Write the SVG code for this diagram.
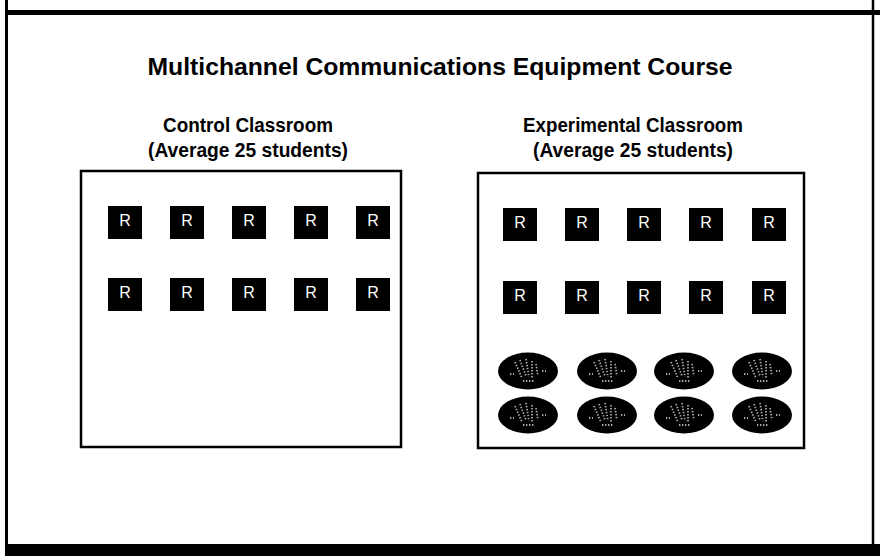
<svg xmlns="http://www.w3.org/2000/svg" width="880" height="556" viewBox="0 0 880 556">
<defs>
<style>
.t{font-family:"Liberation Sans",Arial,Helvetica,sans-serif;font-weight:bold;fill:#000;text-anchor:middle}
.frame{fill:none;stroke:#000;stroke-width:2.5}
.r{fill:#000}
.rl{font-family:"Liberation Sans",Arial,sans-serif;font-size:16px;fill:#fff;text-anchor:middle}
.ov{fill:#000}
.hand{fill:none;stroke:#a8a8a8;stroke-width:1.8;stroke-dasharray:1.4 1.6}
</style>
<symbol id="handmark" viewBox="-30 -18 60 36" overflow="visible">
<path class="hand" d="M-13 -9 L-6 7 M-8 -11 L-2 5 M-2 -12 L1 6 M4 -10 L4 7 M8 -7 L10 5 M-5 10 L7 10 M-18 3 L-14 3 M14 0 L18 0"/>
</symbol>
</defs>
<rect width="880" height="556" fill="#fff"/>
<g id="page-frame">
<line x1="6.5" y1="0" x2="6.5" y2="546" stroke="#000" stroke-width="3"/>
<line x1="873" y1="0" x2="873" y2="546" stroke="#000" stroke-width="2.5"/>
<rect x="6" y="10" width="874" height="5" fill="#000"/>
<rect x="5" y="544" width="875" height="12" fill="#000"/>
</g>
<text class="t" x="440" y="75" font-size="24" textLength="585" lengthAdjust="spacingAndGlyphs">Multichannel Communications Equipment Course</text>
<g id="control">
<text class="t" x="248" y="132" font-size="19.5" textLength="170" lengthAdjust="spacingAndGlyphs">Control Classroom</text>
<text class="t" x="248" y="157" font-size="19.5" textLength="200" lengthAdjust="spacingAndGlyphs">(Average 25 students)</text>
<rect class="frame" x="81" y="171" width="320" height="276"/>
<g id="control-seats">
<rect class="r" x="108" y="206" width="34" height="33"/><text class="rl" x="125" y="226">R</text>
<rect class="r" x="170" y="206" width="34" height="33"/><text class="rl" x="187" y="226">R</text>
<rect class="r" x="232" y="206" width="34" height="33"/><text class="rl" x="249" y="226">R</text>
<rect class="r" x="294" y="206" width="34" height="33"/><text class="rl" x="311" y="226">R</text>
<rect class="r" x="356" y="206" width="34" height="33"/><text class="rl" x="373" y="226">R</text>
<rect class="r" x="108" y="278" width="34" height="33"/><text class="rl" x="125" y="298">R</text>
<rect class="r" x="170" y="278" width="34" height="33"/><text class="rl" x="187" y="298">R</text>
<rect class="r" x="232" y="278" width="34" height="33"/><text class="rl" x="249" y="298">R</text>
<rect class="r" x="294" y="278" width="34" height="33"/><text class="rl" x="311" y="298">R</text>
<rect class="r" x="356" y="278" width="34" height="33"/><text class="rl" x="373" y="298">R</text>
</g>
</g>
<g id="experimental">
<text class="t" x="633" y="132" font-size="19.5" textLength="220" lengthAdjust="spacingAndGlyphs">Experimental Classroom</text>
<text class="t" x="633" y="157" font-size="19.5" textLength="200" lengthAdjust="spacingAndGlyphs">(Average 25 students)</text>
<rect class="frame" x="478" y="173" width="326" height="275"/>
<g id="experimental-seats">
<rect class="r" x="503" y="208" width="34" height="33"/><text class="rl" x="520" y="228">R</text>
<rect class="r" x="565" y="208" width="34" height="33"/><text class="rl" x="582" y="228">R</text>
<rect class="r" x="627" y="208" width="34" height="33"/><text class="rl" x="644" y="228">R</text>
<rect class="r" x="689" y="208" width="34" height="33"/><text class="rl" x="706" y="228">R</text>
<rect class="r" x="752" y="208" width="34" height="33"/><text class="rl" x="769" y="228">R</text>
<rect class="r" x="503" y="281" width="34" height="33"/><text class="rl" x="520" y="301">R</text>
<rect class="r" x="565" y="281" width="34" height="33"/><text class="rl" x="582" y="301">R</text>
<rect class="r" x="627" y="281" width="34" height="33"/><text class="rl" x="644" y="301">R</text>
<rect class="r" x="689" y="281" width="34" height="33"/><text class="rl" x="706" y="301">R</text>
<rect class="r" x="752" y="281" width="34" height="33"/><text class="rl" x="769" y="301">R</text>
</g>
<g id="vr-stations">
<ellipse class="ov" cx="528" cy="371" rx="30" ry="18.5"/><use href="#handmark" x="498" y="353" width="60" height="36"/>
<ellipse class="ov" cx="607" cy="371" rx="30" ry="18.5"/><use href="#handmark" x="577" y="353" width="60" height="36"/>
<ellipse class="ov" cx="684" cy="371" rx="30" ry="18.5"/><use href="#handmark" x="654" y="353" width="60" height="36"/>
<ellipse class="ov" cx="762" cy="371" rx="30" ry="18.5"/><use href="#handmark" x="732" y="353" width="60" height="36"/>
<ellipse class="ov" cx="528" cy="415" rx="30" ry="18.5"/><use href="#handmark" x="498" y="397" width="60" height="36"/>
<ellipse class="ov" cx="607" cy="415" rx="30" ry="18.5"/><use href="#handmark" x="577" y="397" width="60" height="36"/>
<ellipse class="ov" cx="684" cy="415" rx="30" ry="18.5"/><use href="#handmark" x="654" y="397" width="60" height="36"/>
<ellipse class="ov" cx="762" cy="415" rx="30" ry="18.5"/><use href="#handmark" x="732" y="397" width="60" height="36"/>
</g>
</g>
<g id="connectors"></g>
</svg>
